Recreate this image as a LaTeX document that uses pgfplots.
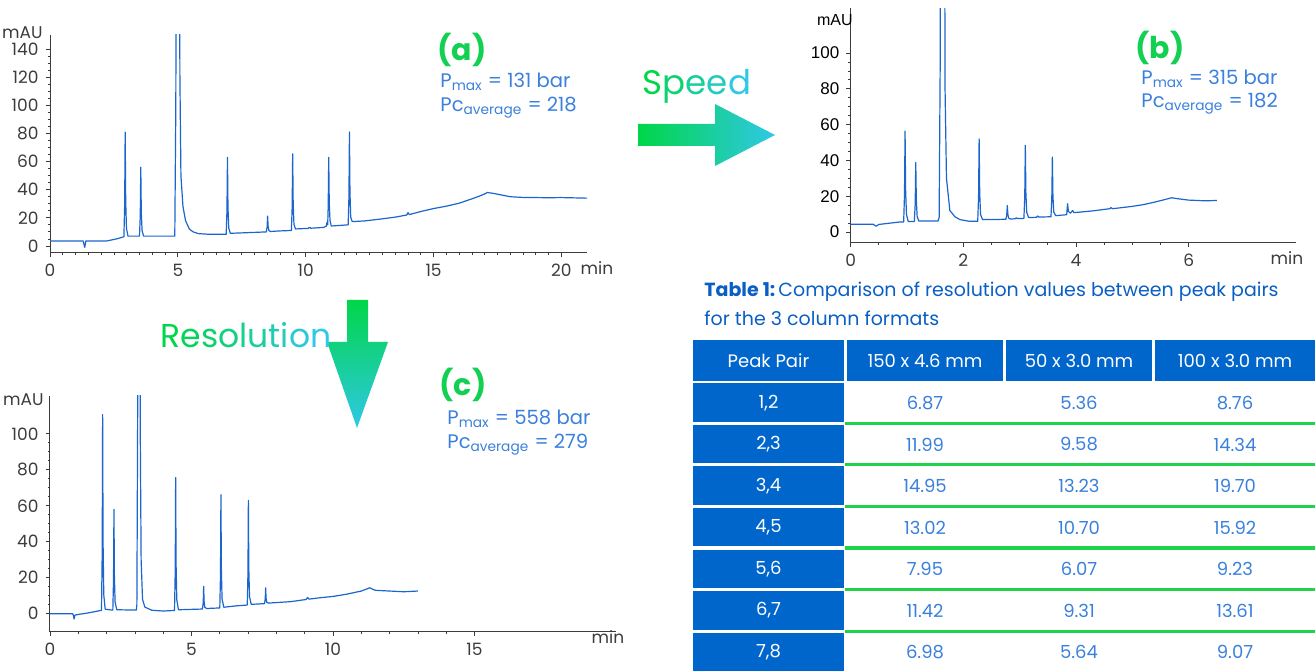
\documentclass[border=0pt]{standalone}
\usepackage{pgfplots}
\pgfplotsset{compat=1.18}
\usepackage{fontspec}
\setmainfont{Poppins}
\newfontfamily\arialfont{Liberation Sans}

\definecolor{tracecol}{HTML}{1A66CC}
\definecolor{labelblue}{HTML}{3A80DC}
\definecolor{labgreen}{HTML}{12D052}
\definecolor{tabblue}{HTML}{0066CC}
\definecolor{tabgreen}{HTML}{1ED24A}
\definecolor{titleblue}{HTML}{0A5FC4}
\definecolor{arrowgreen}{HTML}{00D648}
\definecolor{arrowcyan}{HTML}{30C8E6}
\definecolor{tickgrey}{HTML}{3C3C3C}

\pgfplotsset{
  chrom/.style={
    scale only axis,
    axis x line*=bottom, axis y line*=left,
    axis line style={tickgrey, line width=0.5pt},
    tick align=outside,
    major tick length=2.2pt, minor tick length=1.2pt,
    tick style={tickgrey, line width=0.4pt},
    /pgf/number format/assume math mode=true,
    ticklabel style={font=\fontsize{8.5}{10}\selectfont, text=tickgrey},
    clip=true,
  },
  chromtrace/.style={tracecol, line width=0.6pt, no marks, line join=round},
}

\begin{document}
\begin{tikzpicture}

% ---------------- (a) 150 x 4.6 mm ----------------
\begin{axis}[chrom,
  at={(25pt,-126.5pt)}, anchor=south west,
  width=268.5pt, height=109pt,
  xmin=0, xmax=21, ymin=-5, ymax=150,
  xtick={0,5,10,15,20}, minor x tick num=9,
  ytick={0,20,...,140}, minor y tick num=3,
]
\addplot[chromtrace] coordinates {
 (0,3.5) (1.3,3.5) (1.33,1) (1.36,-1) (1.4,3.5) (2.2,3.5) (2.6,5) (2.88,6.5)
 (2.89,6.5) (2.92,29) (2.94,81) (2.96,32.6) (2.99,12.5) (3.05,7)
 (3.49,7) (3.50,7) (3.53,21.7) (3.55,56) (3.57,24) (3.60,11) (3.66,7)
 (4.85,7) (4.88,7) (4.92,100) (4.95,300) (5.05,300) (5.08,120) (5.12,50) (5.2,28)
 (5.3,18) (5.45,12) (5.6,10) (5.8,8.8) (6.2,8.3) (6.88,8.3)
 (6.89,8.3) (6.92,24.7) (6.94,63) (6.96,27.4) (6.99,12.7) (7.05,9) (7.5,9.3) (8.2,9.8) (8.45,10)
 (8.46,10) (8.49,13.4) (8.51,21.3) (8.53,14) (8.56,11) (8.62,10.3) (9.0,10.7) (9.43,11)
 (9.44,11) (9.47,27.4) (9.49,65.5) (9.51,30) (9.54,15.4) (9.6,12.1) (10.1,12.5) (10.15,13.3)
 (10.2,12.6) (10.7,13.2) (10.8,14) (10.83,16.6) (10.85,15)
 (10.86,15) (10.88,28.7) (10.9,63) (10.92,31) (10.95,18) (11.0,14.2) (11.65,15)
 (11.66,15) (11.69,34.8) (11.71,81) (11.73,38) (11.76,20.3) (11.82,17.3) (12.3,17.8)
 (13.0,19.3) (13.5,20.5) (13.95,22) (14.0,23.7) (14.05,22.3) (14.5,24.5) (15,26.6)
 (15.5,28.3) (16,30.4) (16.5,33.5) (16.8,35.5) (17,37) (17.1,38) (17.3,37.5) (17.5,36.8)
 (18,35) (18.5,34.5) (19,34.4) (19.5,34.3) (20,34.4) (20.5,34.2) (21,34)
};
\end{axis}

% ---------------- (b) 50 x 3.0 mm ----------------
\begin{axis}[chrom,
  at={(425.35pt,-121.35pt)}, anchor=south west,
  width=222.5pt, height=117.2pt,
  xmin=0, xmax=7.9, ymin=-6, ymax=125,
  xtick={0,2,4,6}, minor x tick num=3,
  ytick={0,20,...,100}, minor y tick num=3,
  yticklabel style={font=\arialfont\fontsize{8.5}{10}\selectfont, text=black},
]
\addplot[chromtrace] coordinates {
 (0,4.3) (0.4,4.3) (0.45,3.2) (0.5,4.2) (0.88,5.6)
 (0.94,5.6) (0.955,20.8) (0.965,56.4) (0.975,23.4) (0.99,9.7) (1.02,5.9)
 (1.13,5.9) (1.145,15.8) (1.155,38.8) (1.165,17.4) (1.18,8.5) (1.21,6.1) (1.55,6.1)
 (1.57,8) (1.59,100) (1.60,300) (1.66,300) (1.675,80) (1.7,30) (1.76,12) (1.85,8.5)
 (1.94,6.9) (2.1,6) (2.24,6)
 (2.255,6) (2.27,19.8) (2.28,52) (2.29,22) (2.305,9.7) (2.34,7) (2.5,6.9) (2.75,7.1)
 (2.755,7.1) (2.77,9.4) (2.78,14.8) (2.79,9.8) (2.805,7.7) (2.84,7.2) (2.92,7.4) (2.94,7.9)
 (2.96,7.5) (3.07,7.6)
 (3.075,7.6) (3.09,19.8) (3.10,48.4) (3.11,21.9) (3.125,10.9) (3.16,8) (3.3,8.2) (3.32,8.9)
 (3.34,8.3) (3.55,8.5)
 (3.555,8.4) (3.57,18.5) (3.58,41.9) (3.59,20.1) (3.605,11.1) (3.64,9.1) (3.82,9.6)
 (3.835,9.8) (3.85,15.8) (3.865,11.5) (3.9,10.5) (3.94,12) (3.96,10.8) (4.0,10.9)
 (4.3,11.8) (4.6,13) (4.62,13.6) (4.65,13) (5.0,14.3) (5.2,15.3) (5.4,16.7) (5.6,18.3)
 (5.7,19.1) (5.8,18.6) (6.0,17.8) (6.3,17.4) (6.5,17.6)
};
\end{axis}

% ---------------- (c) 100 x 3.0 mm ----------------
\begin{axis}[chrom,
  at={(25pt,-315.85pt)}, anchor=south west,
  width=283pt, height=117.85pt,
  xmin=0, xmax=20, ymin=-10, ymax=121,
  xtick={0,5,10,15}, minor x tick num=4,
  ytick={0,20,...,100}, minor y tick num=3,
]
\addplot[chromtrace] coordinates {
 (0,0) (0.8,0) (0.83,-1) (0.85,-3) (0.88,-0.8) (1.0,-0.4) (1.3,0.3) (1.6,1.2) (1.82,1.9)
 (1.845,34.5) (1.86,110.7) (1.875,40) (1.9,10.6) (1.95,2.5) (2.2,2)
 (2.22,2) (2.245,18.8) (2.26,58) (2.275,21.6) (2.3,6.5) (2.36,2.2) (3.05,2)
 (3.07,5) (3.1,120) (3.11,300) (3.17,300) (3.19,100) (3.22,30) (3.27,8) (3.35,3.7)
 (3.6,1.9) (4.0,1.5) (4.4,1.8)
 (4.425,24) (4.44,75.7) (4.455,27.7) (4.48,7.7) (4.54,2.2) (5.39,2.6)
 (5.415,6.4) (5.43,15.2) (5.445,7) (5.47,3.6) (5.53,2.9) (6.0,3.2)
 (6.025,22) (6.04,66.1) (6.055,25.2) (6.08,8.2) (6.14,3.6) (6.6,4.4) (6.97,4.8)
 (6.995,22.3) (7.01,63) (7.025,25.2) (7.05,9.5) (7.11,5.2) (7.58,5.6)
 (7.605,8.2) (7.62,14.4) (7.635,8.7) (7.66,6.3) (7.72,5.9) (8.5,6.7) (9.05,7.9) (9.1,9)
 (9.15,8.1) (9.5,8.8) (10,9.6) (10.5,10.9) (11,12.6) (11.3,14.4) (11.4,13.6) (11.5,13)
 (12,12.6) (12.5,12.2) (13,12.6)
};
\end{axis}

\begin{scope}[x=0.5pt, y=-0.5pt]
  % axis unit labels
  \begin{scope}[font=\fontsize{8.5}{10}\selectfont, text=tickgrey, inner sep=0pt]
    \node[anchor=east] at (43,33) {mAU};
    \node at (597,268) {min};
    \node[anchor=east, text=black, font=\arialfont\fontsize{8}{10}\selectfont] at (853,20) {mAU};
    \node at (1287,258) {min};
    \node[anchor=east] at (44,400) {mAU};
    \node at (608,637) {min};
  \end{scope}

  % panel labels
  \begin{scope}[inner sep=0pt]
    \node[text=labgreen, font=\bfseries\fontsize{15}{18}\selectfont] at (462,50) {(a)};
    \node[anchor=west, text=labelblue, font=\fontsize{9.8}{12}\selectfont] at (440,82) {P\textsubscript{max} = 131 bar};
    \node[anchor=west, text=labelblue, font=\fontsize{9.8}{12}\selectfont] at (440,108) {Pc\textsubscript{average} = 218};

    \node[text=labgreen, font=\bfseries\fontsize{15}{18}\selectfont] at (1160,48) {(b)};
    \node[anchor=west, text=labelblue, font=\fontsize{9.8}{12}\selectfont] at (1141,79) {P\textsubscript{max} = 315 bar};
    \node[anchor=west, text=labelblue, font=\fontsize{9.8}{12}\selectfont] at (1141,104) {Pc\textsubscript{average} = 182};

    \node[text=labgreen, font=\bfseries\fontsize{15}{18}\selectfont] at (463,385) {(c)};
    \node[anchor=west, text=labelblue, font=\fontsize{9.8}{12}\selectfont] at (447,419) {P\textsubscript{max} = 558 bar};
    \node[anchor=west, text=labelblue, font=\fontsize{9.8}{12}\selectfont] at (447,445) {Pc\textsubscript{average} = 279};
  \end{scope}

  % Speed arrow
  \shade[left color=arrowgreen, right color=arrowcyan]
    (638,124) -- (715,124) -- (715,104) -- (775,135) -- (715,166) -- (715,146) -- (638,146) -- cycle;
  \node[font=\fontsize{17}{20}\selectfont, inner sep=0pt] at (697,86)
    {\textcolor{arrowgreen}{S}\textcolor{arrowcyan!25!arrowgreen}{p}\textcolor{arrowcyan!50!arrowgreen}{e}\textcolor{arrowcyan!75!arrowgreen}{e}\textcolor{arrowcyan}{d}};

  % Resolution arrow
  \shade[top color=arrowgreen, bottom color=arrowcyan]
    (347,300) -- (368,300) -- (368,342) -- (388,342) -- (357,428) -- (327,342) -- (347,342) -- cycle;
  \node[font=\fontsize{16.5}{20}\selectfont, inner sep=0pt] at (246,335)
    {\textcolor{arrowgreen}{R}\textcolor{arrowcyan!11!arrowgreen}{e}\textcolor{arrowcyan!22!arrowgreen}{s}\textcolor{arrowcyan!33!arrowgreen}{o}\textcolor{arrowcyan!44!arrowgreen}{l}\textcolor{arrowcyan!56!arrowgreen}{u}\textcolor{arrowcyan!67!arrowgreen}{t}\textcolor{arrowcyan!78!arrowgreen}{i}\textcolor{arrowcyan!89!arrowgreen}{o}\textcolor{arrowcyan}{n}};

  % Table 1
  \node[anchor=west, inner sep=0pt, font=\fontsize{9.5}{11}\selectfont, text=titleblue] at (704,292)
    {\textbf{Table 1:}\,Comparison of resolution values between peak pairs};
  \node[anchor=west, inner sep=0pt, font=\fontsize{9.5}{11}\selectfont, text=titleblue] at (704,318)
    {for the 3 column formats};

  \fill[tabblue] (693,340) rectangle (844,381);
  \fill[tabblue] (847,340) rectangle (1003,381);
  \fill[tabblue] (1006,340) rectangle (1152,381);
  \fill[tabblue] (1155,340) rectangle (1315,381);
  \begin{scope}[font=\fontsize{9}{11}\selectfont, text=white, inner sep=0pt]
    \node at (768.5,361) {Peak Pair};
    \node at (925,361) {150 x 4.6 mm};
    \node at (1079,361) {50 x 3.0 mm};
    \node at (1235,361) {100 x 3.0 mm};
  \end{scope}

  \foreach \i/\p/\a/\b/\c in {0/{1,2}/6.87/5.36/8.76, 1/{2,3}/11.99/9.58/14.34,
      2/{3,4}/14.95/13.23/19.70, 3/{4,5}/13.02/10.70/15.92, 4/{5,6}/7.95/6.07/9.23,
      5/{6,7}/11.42/9.31/13.61, 6/{7,8}/6.98/5.64/9.07} {
    \pgfmathsetmacro{\t}{382+41.5*\i}
    \fill[tabblue] (693,\t+1.5) rectangle (844,\t+40);
    \node[text=white, inner sep=0pt, font=\fontsize{9}{11}\selectfont] at (768.5,\t+21) {\p};
    \node[text=labelblue, inner sep=0pt, font=\fontsize{9}{11}\selectfont] at (925,\t+21) {\a};
    \node[text=labelblue, inner sep=0pt, font=\fontsize{9}{11}\selectfont] at (1079,\t+21) {\b};
    \node[text=labelblue, inner sep=0pt, font=\fontsize{9}{11}\selectfont] at (1235,\t+21) {\c};
  }
  \foreach \i in {0,...,5} {
    \pgfmathsetmacro{\t}{382+41.5*\i+41.5}
    \draw[tabgreen, line width=1.5pt] (845,\t) -- (1315,\t);
  }
\end{scope}

\pgfresetboundingbox
\path[use as bounding box] (0,0) rectangle (657.5pt,-336pt);
\end{tikzpicture}
\end{document}
